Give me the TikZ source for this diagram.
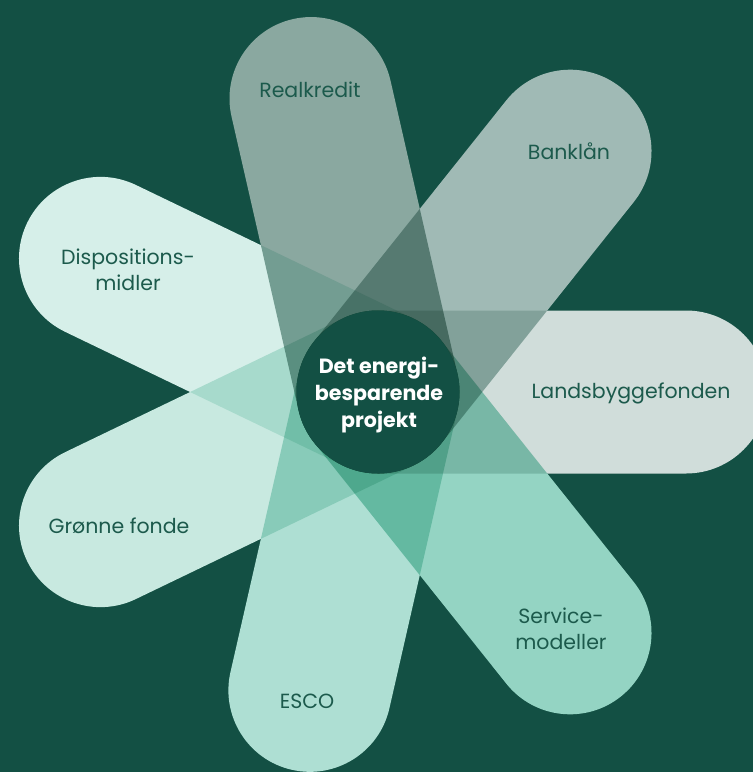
\documentclass[tikz,border=0pt]{standalone}
\usepackage{fontspec}
\setmainfont{Poppins}
\usetikzlibrary{calc}

\definecolor{bgcol}{HTML}{135044}
\definecolor{inkcol}{HTML}{1C5A4C}
\definecolor{cLands}{HTML}{D0DDDA}
\definecolor{cBank}{HTML}{A0BAB5}
\definecolor{cReal}{HTML}{8AA8A0}
\definecolor{cDisp}{HTML}{D6EFE9}
\definecolor{cGron}{HTML}{C8E9E0}
\definecolor{cEsco}{HTML}{AEDFD3}
\definecolor{cServ}{HTML}{94D4C3}

\newcommand{\petallen}{308}

\begin{document}
\begin{tikzpicture}[x=1pt,y=-1pt,
  petal/.style={line width=163pt, line cap=round},
  lbl/.style={text=inkcol, align=center, inner sep=0pt,
              font=\fontsize{20.5}{26}\selectfont},
  hub/.style={circle, fill=bgcol, minimum size=163pt, inner sep=0pt},
  hubtext/.style={text=white, align=center, inner sep=0pt,
              font=\bfseries\fontsize{20.6}{27}\selectfont}]

\useasboundingbox (0,0) rectangle (753,772);
\fill[bgcol] (0,0) rectangle (753,772);

% centre of the flower and the outer end of each petal
\coordinate (c) at (378,392);
\coordinate (pLands) at ($(c)+(0:\petallen)$);
\coordinate (pBank)  at ($(c)+(-51.43:\petallen)$);
\coordinate (pReal)  at ($(c)+(-102.86:301)$);
\coordinate (pDisp)  at ($(c)+(-154.29:\petallen)$);
\coordinate (pGron)  at ($(c)+(154.29:\petallen)$);
\coordinate (pEsco)  at ($(c)+(102.86:306)$);
\coordinate (pServ)  at ($(c)+(51.43:\petallen)$);

% petals, multiplied with each other where they cross
\begin{scope}[transparency group={isolated=true}]
  \path (0,0) rectangle (753,772);
  \begin{scope}[blend mode=multiply]
    \draw[petal, draw=cLands] (c) -- (pLands);
    \draw[petal, draw=cBank]  (c) -- (pBank);
    \draw[petal, draw=cReal]  (c) -- (pReal);
    \draw[petal, draw=cDisp]  (c) -- (pDisp);
    \draw[petal, draw=cGron]  (c) -- (pGron);
    \draw[petal, draw=cEsco]  (c) -- (pEsco);
    \draw[petal, draw=cServ]  (c) -- (pServ);
  \end{scope}
\end{scope}

\node[hub] (hub) at (c) {};
\node[hubtext] (hubtxt) at (379,395) {Det energi-\\besparende\\projekt};

\node[lbl] (lReal)  at (310,90)  {Realkredit};
\node[lbl] (lBank)  at (569,151) {Banklån};
\node[lbl] (lDisp)  at (128,270) {Dispositions-\\midler};
\node[lbl] (lLands) at (631,393) {Landsbyggefonden};
\node[lbl] (lGron)  at (119,526) {Grønne fonde};
\node[lbl] (lEsco)  at (307,701) {ESCO};
\node[lbl] (lServ)  at (561,629) {Service-\\modeller};

\end{tikzpicture}
\end{document}
